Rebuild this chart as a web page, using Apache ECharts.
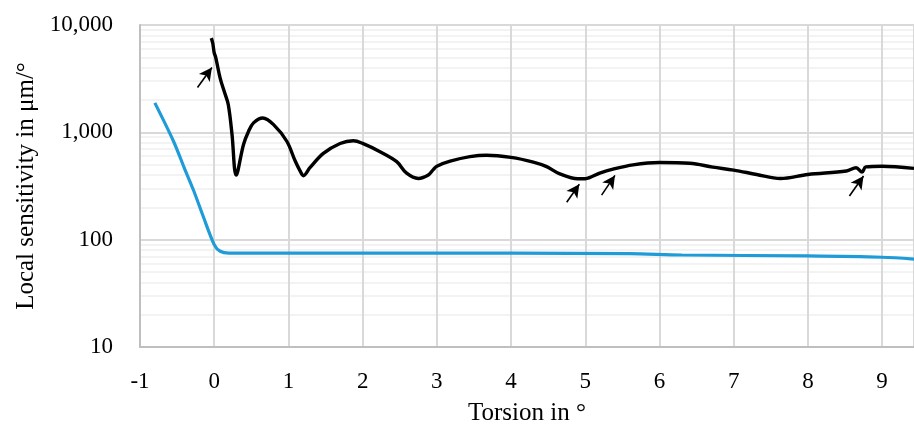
<!DOCTYPE html>
<html>
<head>
<meta charset="utf-8">
<script src="https://cdn.jsdelivr.net/npm/echarts@6/dist/echarts.min.js"></script>
<style>
  html, body { margin: 0; padding: 0; background: #fff; }
  #chart { width: 914px; height: 427px; }
</style>
</head>
<body>
<div id="chart"></div>
<script>
// Local sensitivity (µm/°) against torsion angle (°)
const measuredCurve = [
  [-0.04, 7540], [-0.02, 6800], [0.0, 5500], [0.02, 5000], [0.08, 3200],
  [0.14, 2350], [0.19, 1810], [0.24, 955], [0.296, 400], [0.395, 771],
  [0.462, 1020], [0.53, 1225], [0.655, 1360], [0.8, 1180], [0.978, 826],
  [1.09, 543], [1.157, 437], [1.202, 394], [1.29, 468], [1.471, 636],
  [1.696, 787], [1.875, 835], [2.0, 789], [2.234, 660], [2.459, 533],
  [2.593, 416], [2.75, 372], [2.885, 400], [2.955, 452], [3.0, 484],
  [3.18, 538], [3.446, 593], [3.67, 612], [4.0, 584], [4.3, 528],
  [4.48, 479], [4.657, 410], [4.9, 369], [5.0, 370], [5.195, 417],
  [5.374, 454], [5.644, 498], [6.0, 523], [6.41, 515], [6.72, 474],
  [7.0, 445], [7.31, 405], [7.63, 371], [8.0, 405], [8.52, 436],
  [8.65, 468], [8.73, 426], [8.78, 476], [9.0, 483], [9.43, 461]
];

const modelCurve = [
  [-0.8, 1880], [-0.55, 830], [-0.4, 460], [-0.28, 290], [-0.15, 166],
  [0.0, 90], [0.08, 78], [0.2, 75], [0.5, 75], [2.0, 75], [4.0, 74.8],
  [5.6, 74], [6.3, 72], [8.0, 70.5], [9.0, 68.6], [9.43, 66]
];

// Arrows marking the kinks: [tail, head] in data coordinates
const kinkArrows = [
  [[-0.225, 2620], [-0.031, 4020]],
  [[4.75, 223], [4.92, 328]],
  [[5.22, 260], [5.40, 397]],
  [[8.56, 255], [8.75, 392]]
];

// Minor log gridlines between the decades
const minorGridValues = [];
[10, 100, 1000].forEach(function (d) {
  for (let k = 2; k <= 9; k++) minorGridValues.push(k * d);
});

const xTicks = { min: -1, max: 9.43, step: 1 };
const yRange = { min: 10, max: 10000 };

const serif = 'Liberation Serif';
const chart = echarts.init(document.getElementById('chart'), null, { renderer: 'canvas' });

chart.setOption({
  animation: false,
  backgroundColor: '#ffffff',
  grid: {
    left: 140, top: 25, right: 0, bottom: 80,
    containLabel: false,
    outerBoundsMode: 'none'
  },
  xAxis: {
    type: 'value',
    min: xTicks.min,
    max: xTicks.max,
    interval: xTicks.step,
    name: 'Torsion in °',
    nameLocation: 'middle',
    nameGap: 54,
    nameTextStyle: { fontFamily: serif, fontSize: 25, color: '#000' },
    axisLine: { onZero: false, lineStyle: { color: '#bfbfbf', width: 2 } },
    axisTick: { show: false },
    axisLabel: {
      fontFamily: serif, fontSize: 23, color: '#000', margin: 23,
      showMaxLabel: false,
      formatter: function (v) { return Number.isInteger(v) ? String(v) : ''; }
    },
    splitLine: { show: true, lineStyle: { color: '#d9d9d9', width: 2 } }
  },
  yAxis: {
    type: 'log',
    logBase: 10,
    min: yRange.min,
    max: yRange.max,
    name: 'Local sensitivity in μm/°',
    nameLocation: 'middle',
    nameGap: 100,
    nameTextStyle: { fontFamily: serif, fontSize: 25, color: '#000' },
    axisLine: { show: true, onZero: false, lineStyle: { color: '#bfbfbf', width: 2 } },
    axisTick: { show: false },
    axisLabel: {
      fontFamily: serif, fontSize: 23, color: '#000', margin: 27,
      formatter: function (v) { return Math.round(v).toLocaleString('en-US'); }
    },
    splitLine: { show: true, lineStyle: { color: '#d9d9d9', width: 2 } }
  },
  series: [
    {
      // carrier for the minor horizontal gridlines
      type: 'line',
      data: [],
      silent: true,
      markLine: {
        z: -1,
        silent: true,
        symbol: 'none',
        label: { show: false },
        lineStyle: { color: '#efefef', width: 1.6, type: 'solid' },
        emphasis: { disabled: true },
        data: minorGridValues.map(function (v) { return { yAxis: v }; })
      }
    },
    {
      type: 'line',
      data: modelCurve,
      smooth: 0.3,
      showSymbol: false,
      lineStyle: { color: '#1f9bd8', width: 3.2 },
      z: 3
    },
    {
      type: 'line',
      data: measuredCurve,
      smooth: 0.35,
      showSymbol: false,
      lineStyle: { color: '#000000', width: 3.4 },
      z: 4,
      markLine: {
        silent: true,
        animation: false,
        label: { show: false },
        symbol: ['none', 'arrow'],
        symbolSize: [10, 13],
        lineStyle: { color: '#000', width: 1.6, type: 'solid' },
        data: kinkArrows.map(function (a) {
          return [{ coord: a[0] }, { coord: a[1] }];
        })
      }
    }
  ]
});
</script>
</body>
</html>
